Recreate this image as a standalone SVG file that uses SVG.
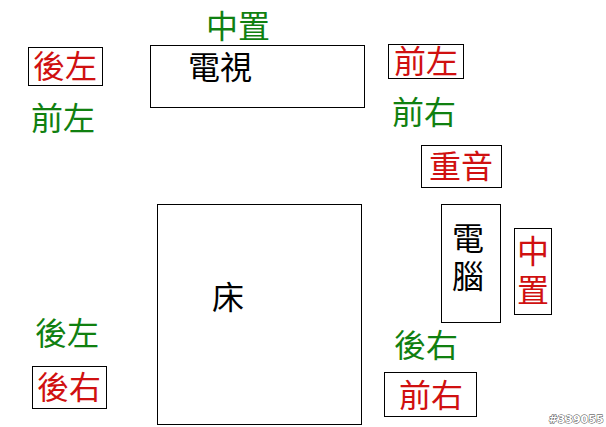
<svg xmlns="http://www.w3.org/2000/svg" width="606" height="427" viewBox="0 0 606 427">
<style>
text{font-family:"Noto Sans CJK TC","Noto Sans CJK JP",sans-serif;font-size:32px;text-anchor:middle}
.r{fill:#d01010}.g{fill:#108010}.k{fill:#000}
rect{fill:#fff;stroke:#000;stroke-width:1}
</style>
<rect x="0" y="0" width="606" height="427" style="fill:#fff;stroke:none"/>
<g id="tv"><rect x="150.5" y="45.5" width="214" height="62"/><text class="k" x="220" y="79">電視</text></g>
<g id="bed"><rect x="157.5" y="204.5" width="204" height="220"/><text class="k" x="228" y="309">床</text></g>
<g id="pc"><rect x="441.5" y="204.5" width="59" height="118"/><text class="k" x="468" y="250">電</text><text class="k" x="468" y="288">腦</text></g>
<g id="g-center"><text class="g" x="238" y="38">中置</text></g>
<g id="r-rl"><rect x="28.5" y="47.5" width="74" height="38"/><text class="r" x="65" y="78">後左</text></g>
<g id="g-fl"><text class="g" x="63" y="130">前左</text></g>
<g id="r-fl"><rect x="388.5" y="44.5" width="75" height="34"/><text class="r" x="426" y="73">前左</text></g>
<g id="g-fr"><text class="g" x="424" y="124">前右</text></g>
<g id="r-sub"><rect x="421.5" y="145.5" width="80" height="42"/><text class="r" x="461" y="178">重音</text></g>
<g id="r-center"><rect x="514.5" y="228.5" width="37" height="86"/><text class="r" x="533" y="263">中</text><text class="r" x="533" y="302">置</text></g>
<g id="g-rl"><text class="g" x="67" y="345">後左</text></g>
<g id="r-rr"><rect x="32.5" y="366.5" width="74" height="42"/><text class="r" x="69" y="399">後右</text></g>
<g id="g-rr"><text class="g" x="426" y="357">後右</text></g>
<g id="r-fr"><rect x="384.5" y="372.5" width="92" height="44"/><text class="r" x="431" y="407">前右</text></g>
<g id="connectors"></g>
<text x="576" y="423" style="font-family:'DejaVu Sans',sans-serif;font-size:11px;font-weight:bold;fill:#fff;stroke:#333;stroke-width:0.8;paint-order:stroke">#339055</text>
</svg>
